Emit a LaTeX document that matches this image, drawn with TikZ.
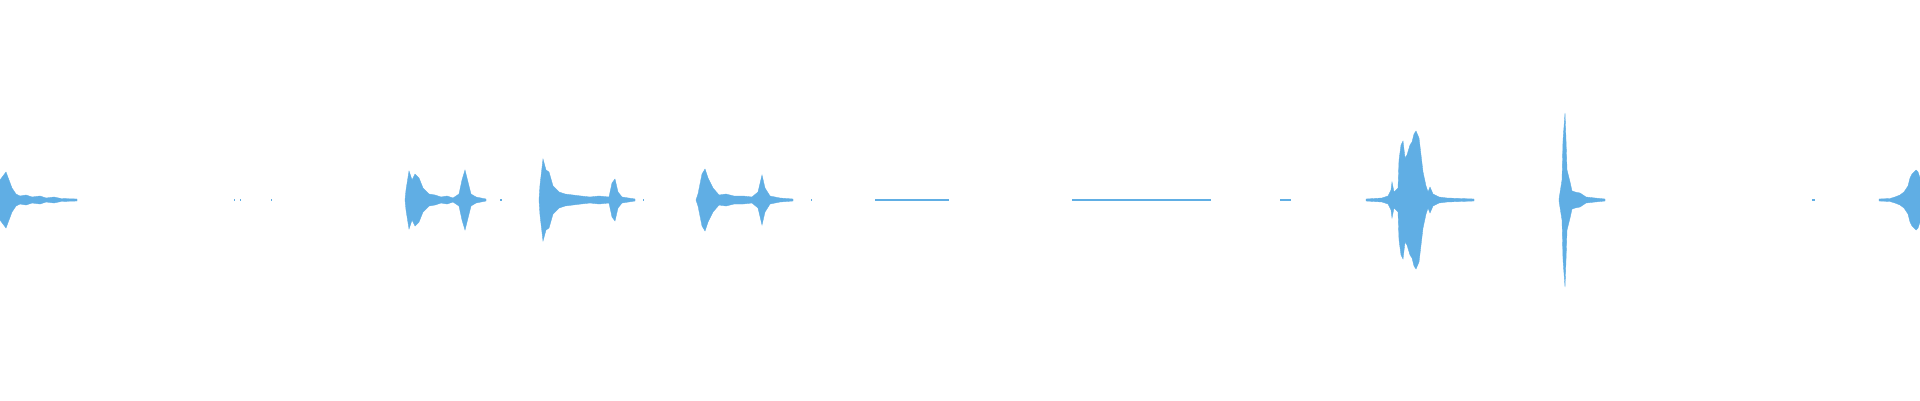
\documentclass[tikz,border=0pt]{standalone}
\definecolor{wavecol}{RGB}{96,174,228}
\tikzset{wave/.style={fill=wavecol, draw=wavecol, line width=0.2pt}}
% one burst, mirrored about the centre line
\newcommand{\burst}[1]{%
    \fill[wave] plot coordinates {#1} -- cycle;
    \fill[wave, yscale=-1] plot coordinates {#1} -- cycle;}
\begin{document}
\begin{tikzpicture}[x=0.02cm, y=0.02cm]
    \useasboundingbox (0,-200) rectangle (1920,200);
    % bursts
    \burst{(0,0) (0,20) (3,24) (6,28) (9,20) (12,12) (16,6) (20,4) (26,5) (32,3) (40,4) (46,2) (54,3) (61,1.5) (77,1) (77,0)}
    \burst{(405,0) (406,10) (409,29) (412,20) (415,26) (419,22) (423,12) (429,6) (435,5) (441,3) (447,4) (453,2) (459,6)
           (462,20) (465,30) (468,18) (471,6) (476,3) (486,1) (486,0)}
    \burst{(539,0) (540,15) (543,41) (546,30) (549,28) (553,14) (559,8) (565,6) (573,5) (581,4) (590,3) (599,4) (609,3)
           (612,17) (615,21) (618,8) (622,3) (635,1) (635,0)}
    \burst{(696,0) (698,6) (702,26) (705,31) (708,22) (713,12) (719,5) (726,6) (734,4) (743,4) (752,3) (758,8)
           (762,25) (765,12) (770,4) (780,2) (793,1) (793,0)}
    \burst{(1366,0) (1366,1) (1382,2) (1388,4) (1391,10) (1392,18) (1394,8) (1398,12) (1399,40) (1401,55) (1403,59)
           (1405,42) (1407,45) (1410,55) (1412,58) (1414,66) (1416,69) (1419,62) (1421,45) (1423,28) (1426,14)
           (1428,8) (1430,13) (1433,6) (1439,3) (1447,2) (1474,1) (1474,0)}
    \burst{(1559,0) (1559,1) (1562,20) (1563,60) (1565,87) (1566,60) (1567,30) (1570,18) (1572,9) (1575,8) (1580,7)
           (1586,3) (1595,2) (1605,1) (1605,0)}
    \burst{(1879,0) (1879,1) (1890,1.5) (1895,3) (1900,5) (1904,8) (1908,14) (1910,22) (1912,26) (1914,28) (1916,30)
           (1918,28) (1920,22) (1920,0)}
    % quiet stretches
    \foreach \xa/\xb in {234/235, 240/241, 271/272, 500/502, 643/644, 811/812,
                         875/949, 1072/1211, 1280/1291, 1812/1815}{
        \fill[wavecol] (\xa,-0.6) rectangle (\xb,0.6);
    };
\end{tikzpicture}
\end{document}
